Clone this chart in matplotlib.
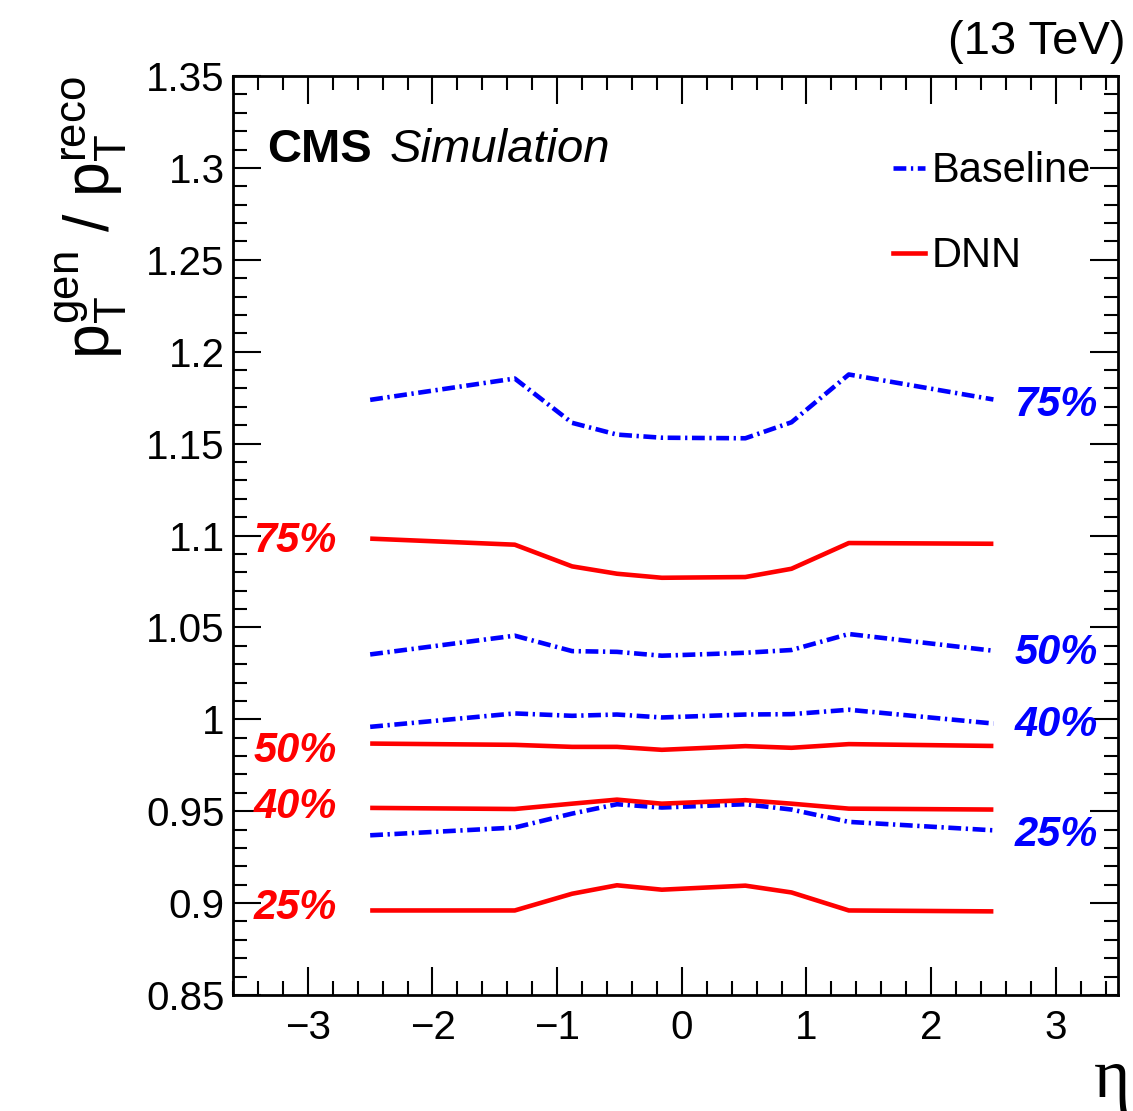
import matplotlib
matplotlib.use('Agg')
import matplotlib.pyplot as plt
from matplotlib.ticker import MultipleLocator
from matplotlib.lines import Line2D

plt.rcParams['font.family'] = ['Liberation Sans', 'DejaVu Sans']
plt.rcParams['mathtext.fontset'] = 'custom'
plt.rcParams['mathtext.rm'] = 'Liberation Sans'
plt.rcParams['mathtext.it'] = 'Liberation Sans:italic'

# eta points of the curves
eta = [-2.5, -1.34, -0.88, -0.52, -0.16, 0.51, 0.88, 1.34, 2.5]

# Baseline (blue, dash-dot) quantiles
base_75 = [1.1738, 1.1854, 1.1613, 1.1549, 1.1532, 1.1529, 1.1616, 1.1876, 1.1740]
base_50 = [1.0353, 1.0455, 1.0371, 1.0367, 1.0346, 1.0362, 1.0377, 1.0464, 1.0373]
base_40 = [0.9959, 1.0032, 1.0019, 1.0026, 1.0010, 1.0026, 1.0028, 1.0052, 0.9977]
base_25 = [0.9369, 0.9411, 0.9487, 0.9538, 0.9520, 0.9538, 0.9509, 0.9442, 0.9396]

# DNN (red, solid) quantiles
dnn_75 = [1.0983, 1.0950, 1.0832, 1.0792, 1.0770, 1.0774, 1.0819, 1.0959, 1.0955]
dnn_50 = [0.9868, 0.9861, 0.9850, 0.9850, 0.9834, 0.9854, 0.9845, 0.9865, 0.9855]
dnn_40 = [0.9518, 0.9512, 0.9541, 0.9563, 0.9541, 0.9560, 0.9541, 0.9514, 0.9509]
dnn_25 = [0.8960, 0.8960, 0.9051, 0.9097, 0.9073, 0.9095, 0.9058, 0.8960, 0.8955]

quant_labels = ['75%', '50%', '40%', '25%']
base_label_y = [1.1712, 1.0363, 0.9970, 0.9371]
dnn_label_y = [1.0970, 0.9825, 0.9522, 0.8972]

base_curves = [base_75, base_50, base_40, base_25]
dnn_curves = [dnn_75, dnn_50, dnn_40, dnn_25]

fig = plt.figure(figsize=(11.33, 11.11), dpi=100)
ax = fig.add_axes([0.2057, 0.1044, 0.7811, 0.8272])

dashdot = (0, (2.8, 1.0, 0.5, 1.0))
for yv in base_curves:
    ax.plot(eta, yv, color='#0000ff', lw=3.3, linestyle=dashdot, dash_capstyle='butt')
for yv in dnn_curves:
    ax.plot(eta, yv, color='#ff0000', lw=3.3, solid_capstyle='butt')

ax.set_xlim(-3.6, 3.5)
ax.set_ylim(0.85, 1.35)

ax.xaxis.set_major_locator(MultipleLocator(1))
ax.xaxis.set_minor_locator(MultipleLocator(0.2))
ax.yaxis.set_major_locator(MultipleLocator(0.05))
ax.yaxis.set_minor_locator(MultipleLocator(0.01))
ax.yaxis.set_major_formatter(plt.FuncFormatter(lambda v, p: '{:g}'.format(round(v, 2))))

ax.tick_params(which='both', direction='in', top=True, right=True, width=1.5, labelsize=29)
ax.tick_params(which='major', length=20)
ax.tick_params(which='minor', length=10)
ax.tick_params(axis='x', pad=10)
ax.tick_params(axis='y', pad=6)
for sp in ax.spines.values():
    sp.set_linewidth(2)

ax.set_ylabel(r'$\mathregular{p_{T}^{gen}\ /\ p_{T}^{reco}}$', fontsize=45, loc='top')
ax.yaxis.set_label_coords(-0.118, 1.0)

fig.text(0.998, 0.028, 'η', fontsize=50, family='Liberation Serif', ha='right', va='center')

fig.text(0.993, 0.951, '(13 TeV)', fontsize=34, ha='right', va='baseline')

ax.text(0.039, 0.906, 'CMS', fontsize=34, fontweight='bold', transform=ax.transAxes, va='baseline')
ax.text(0.177, 0.906, 'Simulation', fontsize=34, style='italic', transform=ax.transAxes, va='baseline')

for lab, yl in zip(quant_labels, dnn_label_y):
    ax.text(-2.77, yl, lab, color='#ff0000', fontsize=30, fontweight='bold', style='italic',
            ha='right', va='center')
for lab, yl in zip(quant_labels, base_label_y):
    ax.text(2.67, yl, lab, color='#0000ff', fontsize=30, fontweight='bold', style='italic',
            ha='left', va='center')

handles = [Line2D([], [], color='#0000ff', lw=3.3, linestyle=dashdot, dash_capstyle='butt'),
           Line2D([], [], color='#ff0000', lw=3.3)]
ax.legend(handles, ['Baseline', 'DNN'], loc='upper left', bbox_to_anchor=(0.7458, 0.918),
          frameon=False, fontsize=30, handlelength=0.77, handletextpad=0.15,
          labelspacing=1.08, borderpad=0, borderaxespad=0)

fig.savefig('out.png', dpi=100)
